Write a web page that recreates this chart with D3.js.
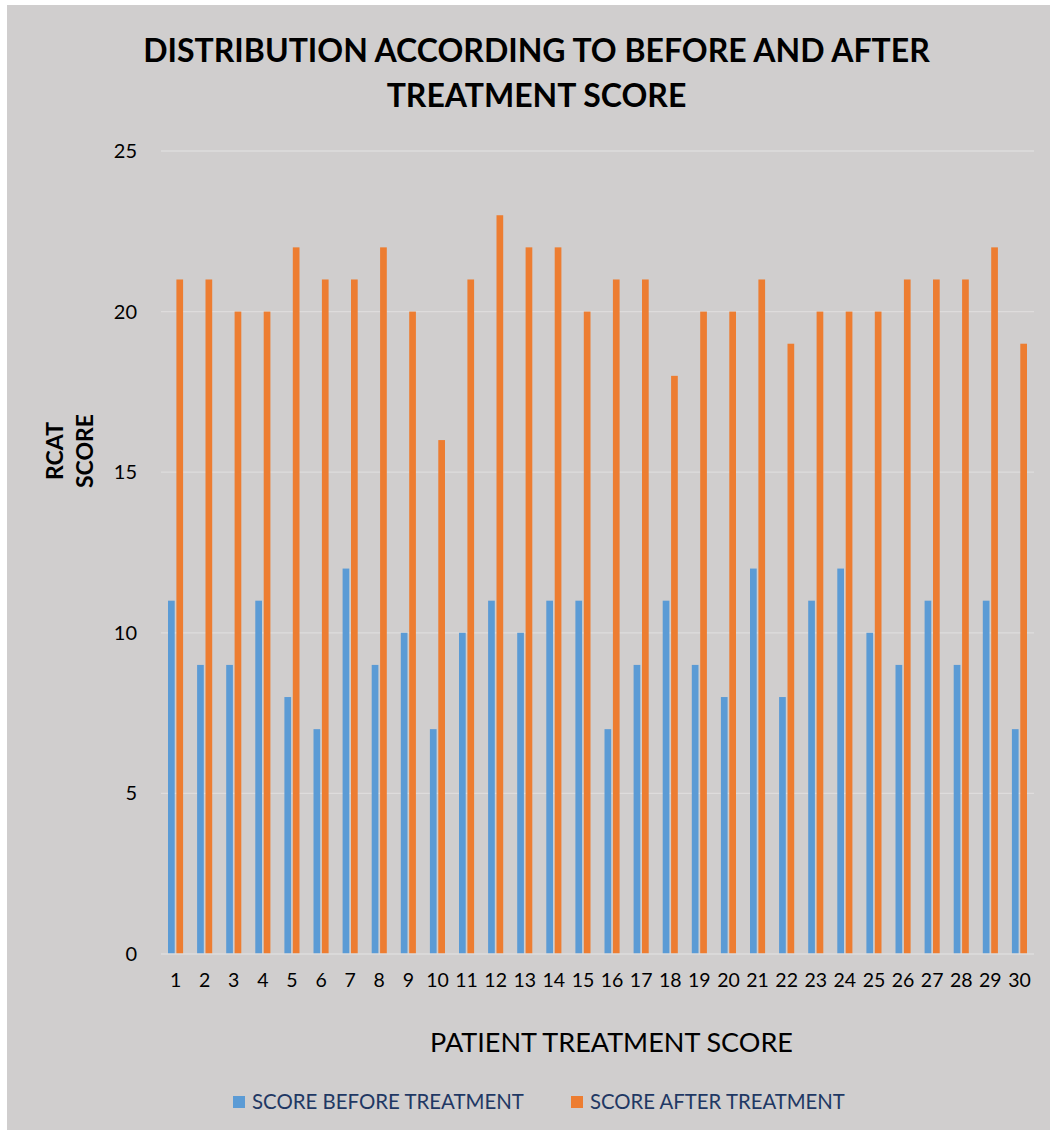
<!DOCTYPE html>
<html>
<head>
<meta charset="utf-8">
<script src="https://cdn.jsdelivr.net/npm/d3@7/dist/d3.min.js"></script>
<style>
  html, body { margin: 0; padding: 0; background: #ffffff; }
  svg { display: block; }
  text { font-family: Lato, "Open Sans", sans-serif; }
</style>
</head>
<body>
<svg id="chart" width="1058" height="1135"></svg>
<script>
// Patient numbers along the x axis
const patients = d3.range(1, 31).map(String);
// RCAT score before treatment, per patient
const scoreBefore = [11, 9, 9, 11, 8, 7, 12, 9, 10, 7, 10, 11, 10, 11, 11, 7, 9, 11, 9, 8, 12, 8, 11, 12, 10, 9, 11, 9, 11, 7];
// RCAT score after treatment, per patient
const scoreAfter = [21, 21, 20, 20, 22, 21, 21, 22, 20, 16, 21, 23, 22, 22, 20, 21, 21, 18, 20, 20, 21, 19, 20, 20, 20, 21, 21, 21, 22, 19];
const seriesNames = ["SCORE BEFORE TREATMENT", "SCORE AFTER TREATMENT"];
const yTicks = [0, 5, 10, 15, 20, 25];

const colors = ["#5b9bd5", "#ed7d31"];
const svg = d3.select("#chart");

// chart area background
svg.append("rect")
  .attr("x", 7).attr("y", 5).attr("width", 1043).attr("height", 1125)
  .attr("fill", "#d0cece");

const plot = { left: 161, right: 1034, top: 151, bottom: 954 };

const x = d3.scaleBand().domain(patients).range([plot.left, plot.right]).padding(0);
const y = d3.scaleLinear().domain([0, 25]).range([plot.bottom, plot.top]);

// horizontal gridlines
svg.append("g").selectAll("line").data(yTicks.filter(d => d > 0)).join("line")
  .attr("x1", plot.left).attr("x2", plot.right)
  .attr("y1", d => y(d)).attr("y2", d => y(d))
  .attr("stroke", "#dedcdc").attr("stroke-width", 1.3);

// y axis labels
const yAxis = d3.axisLeft(y).tickValues(yTicks).tickSize(0).tickPadding(0);
const yg = svg.append("g").attr("transform", `translate(${137},0)`).call(yAxis);
yg.select(".domain").remove();
yg.selectAll("text").attr("font-size", 20).attr("fill", "#000").attr("font-family", "Lato, sans-serif");

// bars
const barW = 6.7, gap = 1.7;
const offsets = [-(barW + gap / 2), gap / 2];
const groups = [scoreBefore, scoreAfter];
groups.forEach((vals, si) => {
  svg.append("g").selectAll("rect").data(vals).join("rect")
    .attr("x", (d, i) => x(patients[i]) + x.bandwidth() / 2 + offsets[si])
    .attr("y", d => y(d))
    .attr("width", barW)
    .attr("height", d => y(0) - y(d))
    .attr("fill", colors[si]);
});

// baseline
svg.append("line")
  .attr("x1", plot.left).attr("x2", plot.right)
  .attr("y1", y(0)).attr("y2", y(0))
  .attr("stroke", "#dedcdc").attr("stroke-width", 1.3);

// x axis labels
const xAxis = d3.axisBottom(x).tickSize(0).tickPadding(0);
const xg = svg.append("g").attr("transform", `translate(0,${973})`).call(xAxis);
xg.select(".domain").remove();
xg.selectAll("text").attr("font-size", 19.5).attr("fill", "#000").attr("font-family", "Lato, sans-serif");

function fitWidth(sel, target) {
  const w = sel.node().getComputedTextLength();
  const fs = parseFloat(sel.attr("font-size"));
  sel.attr("font-size", fs * target / w);
}

// title
const t1 = svg.append("text").attr("x", 536.5).attr("y", 62).attr("text-anchor", "middle")
  .attr("font-weight", "bold").attr("font-size", 32).attr("fill", "#000")
  .text("DISTRIBUTION ACCORDING TO BEFORE AND AFTER");
fitWidth(t1, 787);
const t2 = svg.append("text").attr("x", 536.5).attr("y", 107).attr("text-anchor", "middle")
  .attr("font-weight", "bold").attr("font-size", t1.attr("font-size")).attr("fill", "#000")
  .text("TREATMENT SCORE");

// y axis title
const yt = svg.append("g").attr("transform", "translate(0,451) rotate(-90)");
yt.append("text").attr("x", 0).attr("y", 63).attr("text-anchor", "middle")
  .attr("font-weight", "bold").attr("font-size", 23).attr("fill", "#000").text("RCAT");
yt.append("text").attr("x", 0).attr("y", 93).attr("text-anchor", "middle")
  .attr("font-weight", "bold").attr("font-size", 23).attr("fill", "#000").text("SCORE");

// x axis title
const xt = svg.append("text").attr("x", 611.5).attr("y", 1052).attr("text-anchor", "middle")
  .attr("font-size", 26).attr("fill", "#000").text("PATIENT TREATMENT SCORE");
fitWidth(xt, 363);

// legend
const legendItems = [
  { x: 233, name: seriesNames[0], color: colors[0], w: 272 },
  { x: 571, name: seriesNames[1], color: colors[1], w: 255 }
];
legendItems.forEach(it => {
  svg.append("rect").attr("x", it.x).attr("y", 1096).attr("width", 12).attr("height", 12).attr("fill", it.color);
  const lt = svg.append("text").attr("x", it.x + 19).attr("y", 1109)
    .attr("font-size", 19).attr("fill", "#1f3864").text(it.name);
  fitWidth(lt, it.w);
});
</script>
</body>
</html>
